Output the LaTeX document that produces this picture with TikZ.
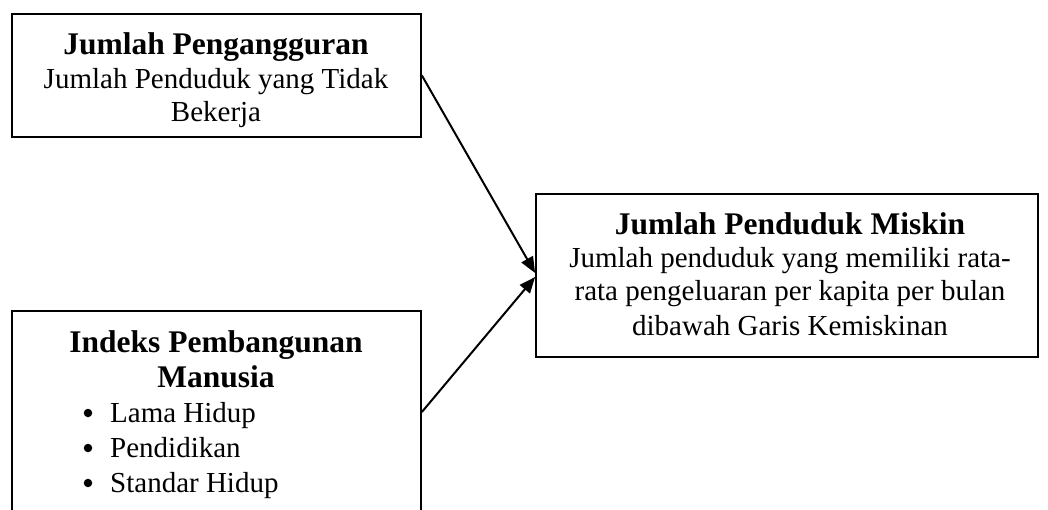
\documentclass[tikz,border=0pt]{standalone}
\usepackage{fontspec}
\setmainfont{Liberation Serif}
\usetikzlibrary{arrows.meta}
\begin{document}
\begin{tikzpicture}[x=1pt,y=1pt,
  box/.style={draw, line width=1.8pt, rectangle, inner sep=0pt},
  ttl/.style={anchor=base, inner sep=0pt, font=\fontsize{31.5}{36}\selectfont\bfseries},
  txt/.style={anchor=base, inner sep=0pt, font=\fontsize{29}{33}\selectfont},
  lft/.style={anchor=base west, inner sep=0pt, font=\fontsize{29}{33}\selectfont},
  dot/.style={circle, fill, inner sep=0pt, minimum size=8.5pt},
  arr/.style={line width=2pt, -{Triangle[length=16pt,width=13pt]}}]
\useasboundingbox (0,0) rectangle (1048,-510);
\clip (0,0) rectangle (1048,-510);
% boxes
\node[box, minimum width=409pt, minimum height=123pt] (b1) at (216.5,-75.5) {};
\node[box, minimum width=409pt, minimum height=202pt] (b2) at (216.5,-412) {};
\node[box, minimum width=502pt, minimum height=163pt] (b3) at (787,-275.5) {};
% box 1 text
\node[ttl] (t1a) at (216,-55) {Jumlah Pengangguran};
\node[txt] (t1b) at (216,-89) {Jumlah Penduduk yang Tidak};
\node[txt] (t1c) at (216,-122) {Bekerja};
% box 2 text
\node[ttl] (t2a) at (216,-352) {Indeks Pembangunan};
\node[ttl] (t2b) at (216,-387) {Manusia};
\node[dot] (t2c) at (88,-413) {};
\node[lft] (t2d) at (110,-422) {Lama Hidup};
\node[dot] (t2e) at (88,-448) {};
\node[lft] (t2f) at (110,-457) {Pendidikan};
\node[dot] (t2g) at (88,-483) {};
\node[lft] (t2h) at (110,-492) {Standar Hidup};
% box 3 text
\node[ttl] (t3a) at (790,-235) {Jumlah Penduduk Miskin};
\node[txt] (t3b) at (790,-268) {Jumlah penduduk yang memiliki rata-};
\node[txt] (t3c) at (790,-301) {rata pengeluaran per kapita per bulan};
\node[txt] (t3d) at (790,-335) {dibawah Garis Kemiskinan};
% connectors
\draw[arr] (b1.east) -- ([yshift=2.5pt]b3.west);
\draw[arr] (b2.east) -- ([yshift=-1.5pt]b3.west);
\end{tikzpicture}
\end{document}
